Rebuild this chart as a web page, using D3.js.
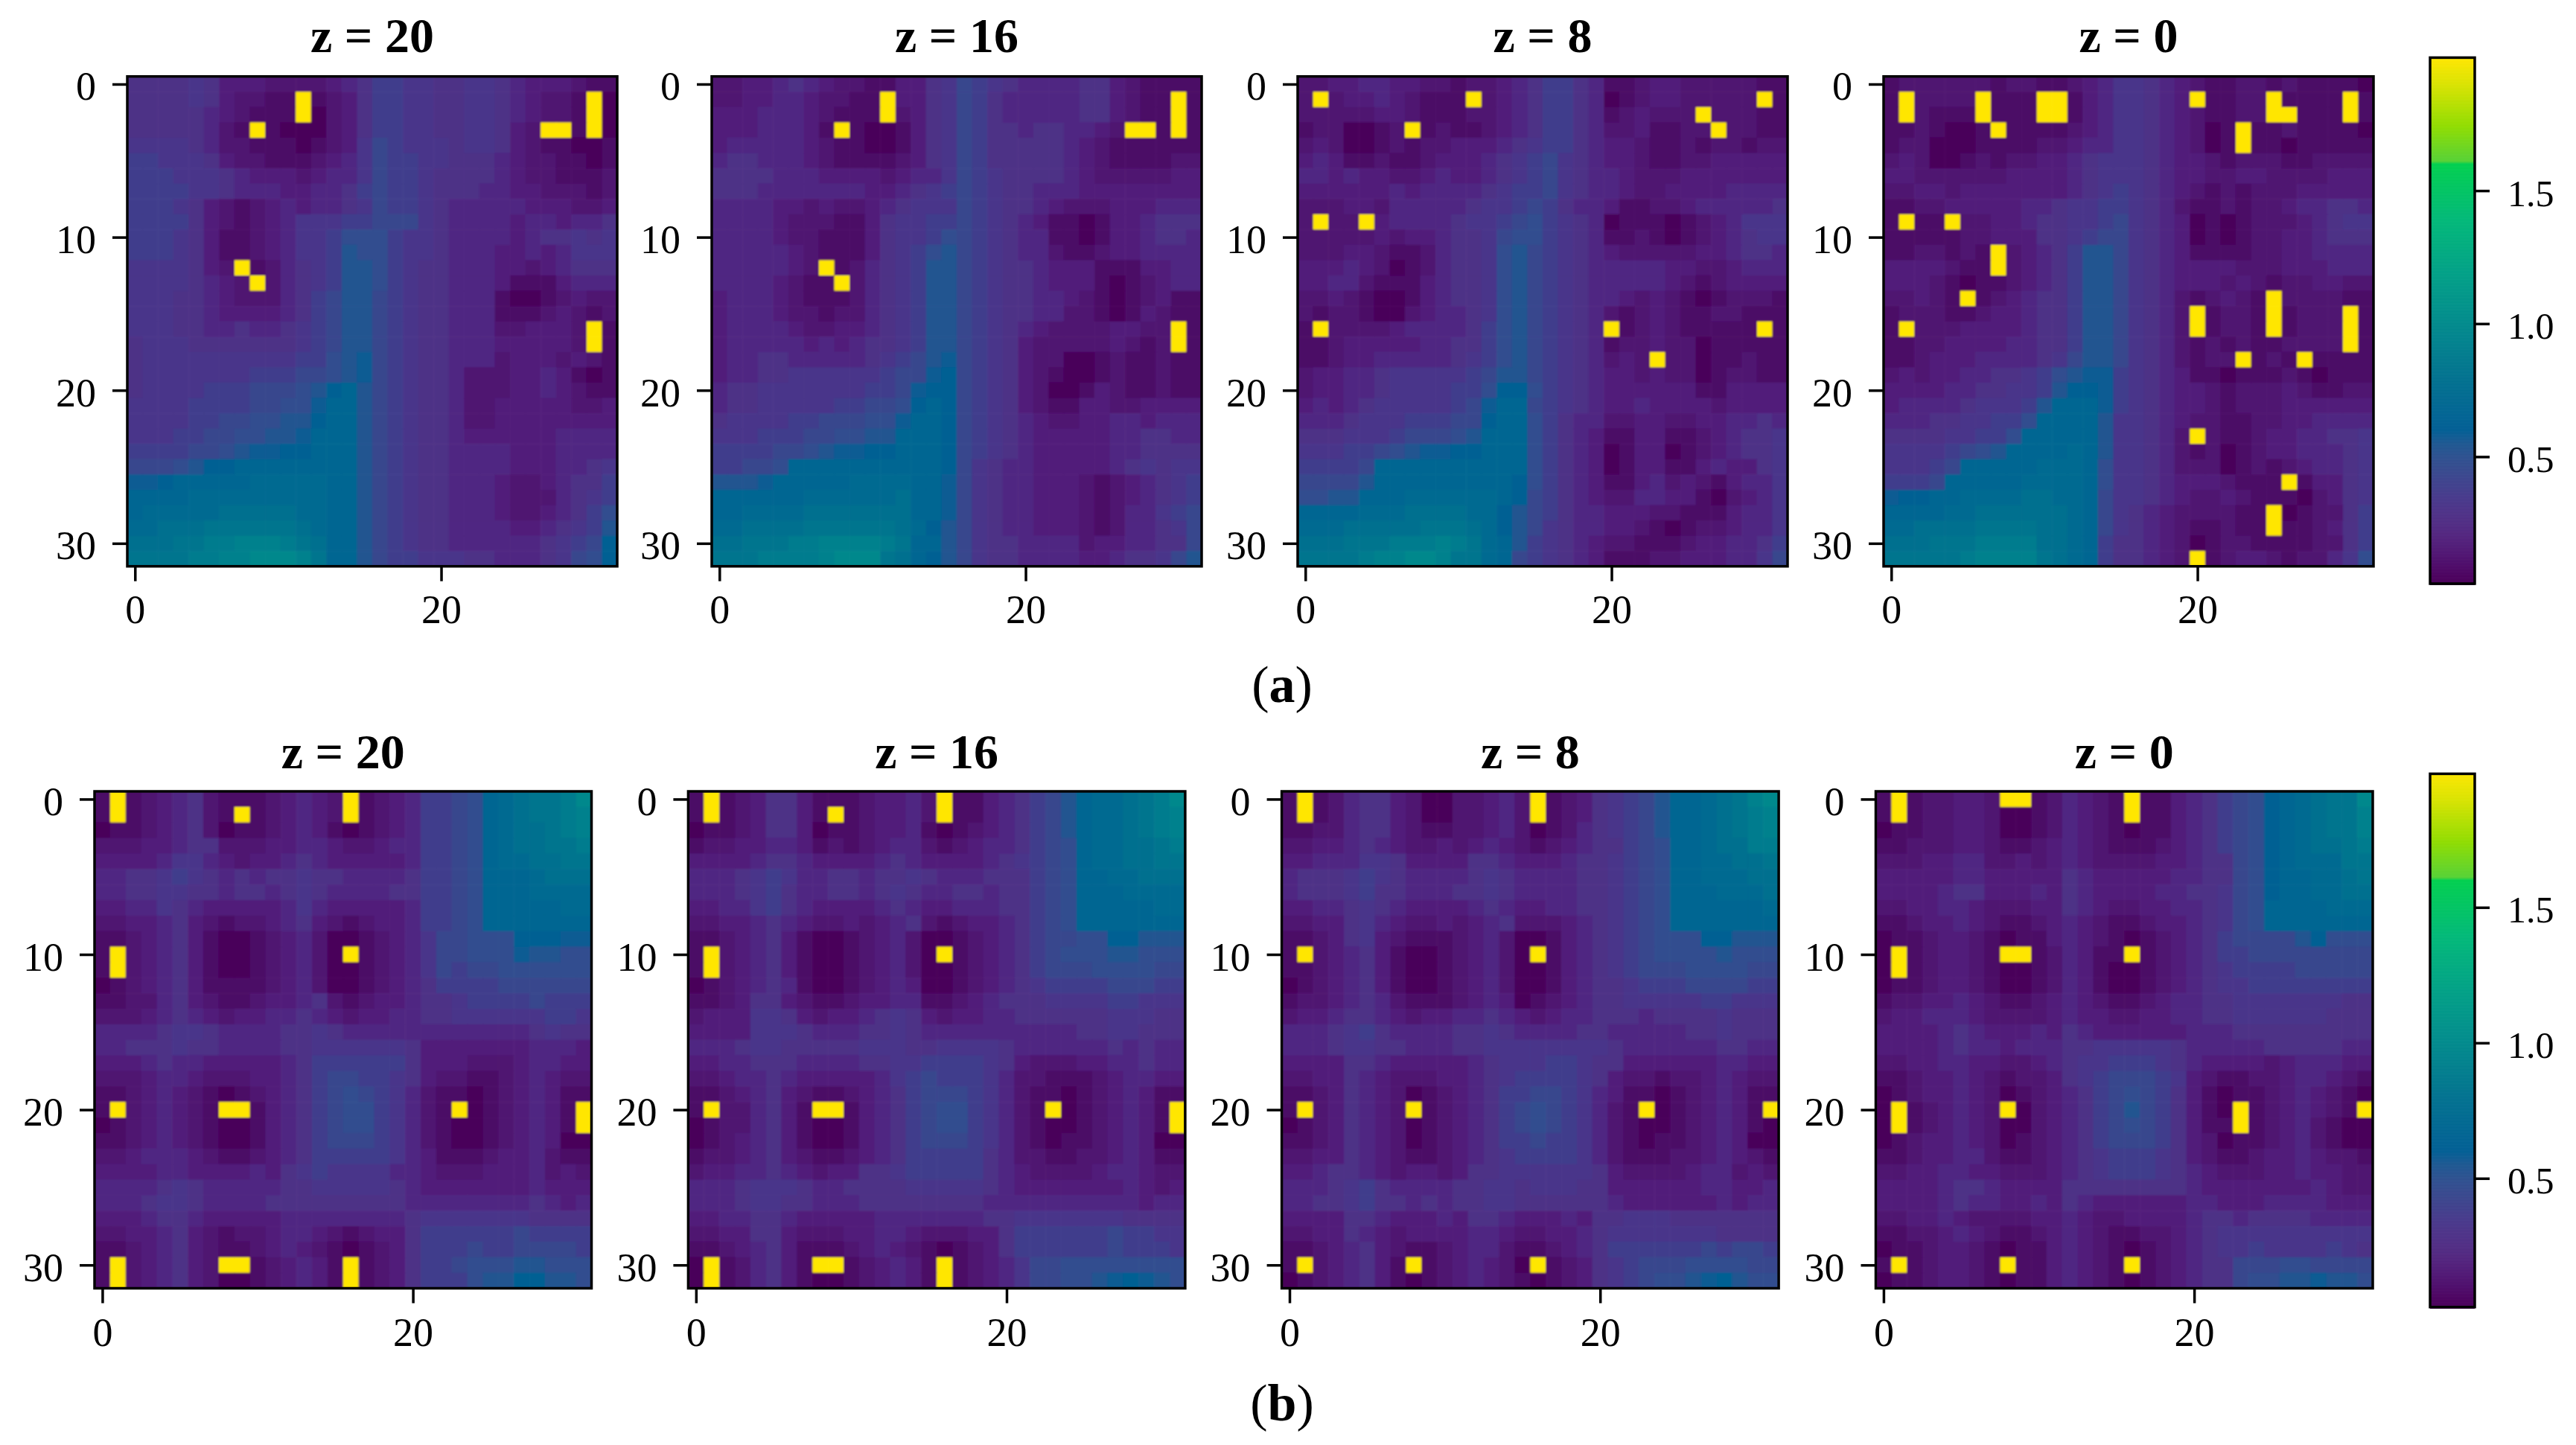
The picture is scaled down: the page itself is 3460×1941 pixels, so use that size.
<!DOCTYPE html>
<html lang="en">
<head>
<meta charset="UTF-8">
<title>Heatmaps z slices</title>
<script src="https://d3js.org/d3.v7.min.js"></script>
<style>
  html, body { margin: 0; padding: 0; background: #fff; }
  text { font-family: "Liberation Serif", serif; fill: #000; }
</style>
</head>
<body>
<svg id="chart" width="3460" height="1941">
  <defs><filter id="soft" x="0" y="0" width="100%" height="100%"><feGaussianBlur stdDeviation="1.2"/></filter></defs>
</svg>
<script>
// each letter is one cell: a = 0.03, b = 0.08, c = 0.13 ... t = 0.98, # = saturated (2.0)
const topZ20 = [
"ffff gfdd dccc cdef hhgg ffgg fedd dcbb",
"ffff gfdc cbb# bcdf hhgg ffgg fedc cb#a",
"ffff fedc bbb# acdf hhgg ffgg fedc cb#a",
"ffff fecb #baa acdf hhgg ffgg fdc# #b#a",
"gggg fecc bbba bcdg ihgg gfgg fdcb baab",
"hhgg gfdc cbbb cdeg ihhg gfff edcc bbab",
"hhhg ggfe dddc deeg ihhg ffff edcc bbbc",
"hhhh ggfe eedd eefh ihhg fffe eddc ccbc",
"hhhg fdcb cded eefg ihhg feee eedd dccd",
"hhhh fdcb cdeg gghh iiig feee edee deef",
"hhhg fdbb cdeg ghjj jhgg feee edef fgfg",
"hhhg fdbb cdeg ghkj jhgg feee dded eggg",
"gggg fdc# bcef ghkk jhgf feee ddcd efff",
"gggg fedc #cef ghkk jhgf feee dbbb deee",
"gggf fedc ccef hikk ihgf feee baab cdcc",
"gggf fedd ddef hikk ihgf feee bbbc dcbc",
"gggf feef eefg hikk ihgf feee ccdd dc#b",
"fggg ffff fffg hikk ihgf feee dddd dc#b",
"fggg gggg gggh hjkl ihgf feee cddd cdcb",
"fggg gggg hhhi ijkl ihgf fecc cdde dbab",
"fggg ghhh iiij kmnk ihgf fecc cdde dcbb",
"gggg hhhh iijj lnnk ihgf fecc dddd dccd",
"gggg hhii jjkk mnnk ihgf fecc dddd dddd",
"gggh hiij jkkl nnnk ihgf fedd dddd eeee",
"hhhh iijk llmm nnnk ihgf feee eddd eeee",
"iiij kmmn nnnn nnnk ihgf feee eddd eefg",
"llmn nnnn oooo onnk ihgf feee dccd effh",
"nnnn oooo oooo onnk ihgf feee dccc efgh",
"nooo oopp pppo onnk ihgf feee dccd efhj",
"oopp pqqq qqqp onnk ihgf feee edde fghk",
"pppq qrrs ssrq pnnk ihgf feee eeef ghim",
"qqqq rrss ttts qnnk ihhg ggff eeef gijm"];

const topZ16 = [
"ccdd efed ccbb ddfg ihgf eeee ffdc bbbb",
"ccdd eedc cbb# ddfg ihfe eeee ffdc bb#b",
"ddde eedc bbb# cdfg ihfe eeee ffdc bb#b",
"ddde eedb #baa bdfg ihff effe edc# #b#b",
"deee eedc bbaa bdfg ihff fffe dcbb bbbb",
"effe eedc bbbb cdfg ihff fffe dcbb bbcc",
"ffff eeed dddc deeg ihgf fffe dccc ccdd",
"fffe eeee eedd efgh ihgf feee dddd dddd",
"eeee ddcd ccde fggg ihgf fedc ccdd deee",
"eeee dccc bbdf gghh ihgf edbb abdd efff",
"eeee dccb bbdf gghj ihgf eebb abdd effe",
"eeee edcb bbdf ghjk ihgf eecb bcdd eeee",
"eeee edc# bcef ghkk ihgf fedd dbbb ddee",
"eeee dcbb #cef ghkk ihgf fedd dbab cdee",
"deee dcbb bcef ghkk ihgf feed cbab cdbb",
"deee dccb ccef ghkk ihgf feec cbab dcbb",
"deee edcc ddef ghkk ihgf edcc ccdd cc#b",
"deee eede deff ghkk ihgf dccc ccdc bc#b",
"deef feee eefg hikl ihgf dcca abcb bcbb",
"deef fggg gggh iilm ihgf dcba abcb bcbb",
"effg gggg gghh ilmm ihgf dcaa bdcb bcbb",
"effg gggg hhii jmnm ihgf dcbb ddcc dddd",
"fggg ghhi iijj lnnm ihgf edcc ddee deee",
"gggh hhii jjkk nnnm ihgf eddd ddee ffee",
"hhhh iijk llmm nnnm ihgf eddd ddee ffff",
"hhii jnnn nnnn nnnm igfe eddd ddef gfgg",
"kkkl nnnn nooo onnl igfe eddd cbcd efgh",
"nnnn nnoo oooo pnnl igfe eddd cbcd efgh",
"nnoo oopp pppp pnnl igfe eddd cbce eghi",
"oopp ppqq qqqq pomk igfe eddd cbce efgi",
"ppqq qrrs sssr qnnk igff eeee cdde effi",
"qqqr rrrs tttq pnmk igff eeee ddef fgik"];

const topZ8 = [
"ccdd eedd ccbc cdef hhfe bbcd dccc ccbb",
"c#cd dedc bbb# cdef hhfe abcd dccc cc#b",
"cccc cddc bbbc cdef hhfe bcdc cc#c ccbb",
"bcca abc# bcbb cdef hhfe ccdb bcc# ccbb",
"cdca abcb ccdd defg hhfe ddcb bcbc cbcc",
"dedb bcbb cddd efgh igfe ddcb bccd dddd",
"eede ddcc dedd efgh igfe edcc cddd dddd",
"dddd dded eeee fghh igfe edcc dddd eeee",
"cccd dcee eeef gghi hfee dbbc cdee eeef",
"c#cc #dee eefg ghij hgfe abbb abcd eggg",
"cccc cdcd deff gijj hgfe bbcb abcd efgg",
"cccd dcbb ceff gjki hgfe dccc ccdd effe",
"ddde dcab ceff gjki hgfe eeee ddcc deee",
"ddee cbbb deff gjki hgfe eeee dcbc dddd",
"ccdc baab deff gjki hgfe edcd cbab cccb",
"cbcc baac deef gjki hgfe cbcd cbbc cbbb",
"b#cc ccde eeef hjki hgfe #bcd cbbb bb#b",
"bbcd dddd eeff hjki hgfe bccd ccab bbbb",
"bbcd deee eefg hjki hgfe cdc# ccab bcbb",
"cdde efgg gggh ikki hgfe ddcd ccab ccbb",
"cdde efgg gghh jmmj hgfe dddd ddbb dddd",
"dede fggg gghi lnni hgfe dded dddc dddd",
"eeef gggh hhii mnnj hfee ccdd ccdd eefe",
"fffg gghi iijk nnnj hfed bbdd bbcd effg",
"gggh hijk llmm nnnj hfed abdd abcd effg",
"hhhh innn nnnn nnnj hfed abdd bbde ddfg",
"iiii knnn nnnn nnmj hfed bbde cdcb deeg",
"jjkk nnno oooo onmi hfed ccee ddba cdeg",
"nnnn ooop pppo omki hfee dddc cbbb deeg",
"ooop pppp qqqp omki gfee ddcb abcc deeg",
"pppq qqrr rsrq onkh gfed ccbb bcdd eefh",
"qqqq rsst tsqq onih gfed bbbc cddd eegi"];

const topZ0 = [
"bccc cccb ccbb cdeg gfed cbbc cbcb bbba",
"b#cc cc#b bb## bdeg gfed #bbc c#bb bb#b",
"b#cb bb#b bb## bdeg gfed cbbc c##b bb#b",
"bbcb aab# bbbb cdeg gfed cab# bbcb bbba",
"bcca aabb bbcc deeg gfed cab# bbab bbbb",
"cdca abcb ccdd efgg gfed dcbc ccbb cccc",
"ddcc cccc dddd efgg gfed dccd dccc cddd",
"ccdd cddd dddd efgh gfed cbcb cccd dddd",
"bbcc dddd deef gghh gfec bbcb ccde effe",
"b#bb #ccd deff gghi gfed abab cccd efgg",
"bbbb bccd ddff ghii gfed abab ccdd efff",
"bbcc bcb# cdef hkki gfed bbbb ccdd eeee",
"dddd cbb# cdef hkki gfed dddc ccdd deee",
"dddc babb cdef hkki gfed ddcd cbcc ddcc",
"ccdc b#bc deff hkki gfec bcdc b#cc ccbb",
"bccc bbcd deff hkki gfec #bcc b#bc cc#b",
"b#cc cddd deff hkki gfec #bcc b#bc cc#b",
"bbcc dddd eeff hkki gfec bcbc bbcc cc#b",
"bbcd ddee eefg ikki gfec bcc# bcb# bbbb",
"cdcd deef fghj kllh gfed bbab bbcb abbb",
"dddd eeff gghk mmlh gfed dcbc ccdc bbcc",
"deee efgg ghkn nnlh gfed dcbc ccdd dddd",
"eeef fggh hjnn nnkg gfed ccbb ccdd eeee",
"ffff gghh jnnn nnkg gfec #cbb cdde effg",
"gggg hijk nnnn onkg gfec bcab cdde eefg",
"gggh innn nnoo onjg gfec ccab cbcd eefg",
"hhhi nnnn nooo onjg gfed ddcb bb#b ddfg",
"lmmn nooo oppo onig gfed ccdc bbba cdfg",
"nnnn oopp pppp onig fedc cccb b#ab ccfh",
"oopp ppqq qqpp onig fedc bbcb b#bb cdfh",
"pppq qqrr rrpp onhf fedc abcc bbbb ccfh",
"qqqq qrss ssqp onhf fedc #bcd dcbc cegj"];

const bottomZ20 = [
"b#bc defc bbbc dedc #bcd ehhi jnop qqrt",
"b#bc defc b#bc dedc #bcd ehhi jnop qqrs",
"abbc defc abbc dedb abcd ehhi jnop pqrs",
"cccd deff cccd deed ccde ehhi jnop pqqr",
"dddd egge dcdd efed dddd ehhi jnoo ppqq",
"eeff ghgf efef fgff eeee fhhi jnnn oppp",
"eeff ggff effe fgfe eeef fhhi jnnn oooo",
"ddee gfed dddd eged dddd ehhi jnnn nnoo",
"ccdd efdc bccd efdc bcdd ehhi jnnn nnnn",
"bbcd efdb aabc deca abcd egii jjjm mmll",
"b#cd efdb aabc deca #bcd egii jjjl kkjj",
"b#cd efdb aabc deca abcd egih iijj jjjj",
"abcd efdb bbbc deca abcd efhh hhii iiii",
"bbcc efdc bbcd defc bcdd effg hhhh ihhh",
"cccd efed cdde efed cdde effg gggg ghhg",
"eeee fggf eeee ffgf eeee eeee eeee fgff",
"eeff fgff eeee ffgg gggg fddd dddd eeed",
"ddde feed dddd efhh hhhh fddd cccd eedd",
"cccd eedc ccdd efhi ihhg fdcc bbcd edcc",
"bbcd edcb abcd efhi jihg ecbb abcd edbb",
"b#cd edcb ##bd efhi jjhg ecb# abcd edb#",
"abcd edcb aabd efhi jjhg ecba abcd edb#",
"bbcd edcb aabd efhi iihg ecba abcd edaa",
"ccde eedc bbcd efhh hhhg edbb bcdd ecbb",
"dddd eedd dded fghg ggge edcc cddd ecdc",
"eeee fgfe eeee ffgg gggf eddd dddd eddd",
"eeef ggfe eeef ffff ffff eeee eeee fede",
"ddde ffed dddd eeee eeee fggg gggg ffff",
"ccdd efdc bccd eedc bcdd fhhh hhhi hhhh",
"bbcd efdc bbcd edcb abcd fhhh ihhi iiih",
"b#cd efdc ##bc dedb #bcd fhhi jjjk kjjj",
"b#cd efdc aabc dedb #bcd fhhh jkkm mkkj"];

const bottomZ16 = [
"b#bc dffd bbbc ddec #bbd efhi knoo pqrt",
"b#bc dffd b#bc ddec #bbd efhi knoo pqrs",
"abbc dffd abbc ddeb abcd efhi knoo pqrs",
"bccd deed bcbc deec bcde efhi jnoo ppqr",
"dddd effe dddd efed ddde fghi jnoo ppqq",
"eeef ghge effe ffgf eeef ffhi jnno oppp",
"eeef ghfe effe fgfe effe ffhi jnnn oooo",
"ddee ghfe dddd efed deee ffhi jnnn nnoo",
"ccdd efed ccdc defc bcdd efhi jnnn nnnn",
"bbcd efdb aabc deca abcd efhi ijjm mkkk",
"b#cd efdb aabc deca #bcd efhi jjjk kjjj",
"b#cd efdb aabc deca abcd efhi iijj jjii",
"abcd efeb aabc deda abcd efgh hhhi iihh",
"bbcd ffdc bbcd deeb bcde fffg gggh hggg",
"cddd ggfd cdde fgfd cdde efff fffg ggff",
"dddd gggf eeef fgfe eeee eeee effg gfff",
"eeef ggff fffg ggff gggg feee eeef efee",
"ddee fffe eeef fggh hhhg fdcc cdde efee",
"ccde efed dddd eghi hhhg eccb bbcd eedd",
"bbcd efdc bbcd efhi iihg ecbb abcd edbb",
"b#cc efdb ##bd efhi jjhg ecb# abcd edb#",
"abcc efdb aabd efhi jjhg ecba abcd edb#",
"abcd efdb aabd efhi iihg ecba bbcd edaa",
"bccd efdc bbcd efhh hhhf eccb bccd edbb",
"cdde efed cddf fghh hhhf edcc ccde edcc",
"eeef gggf eeff ffgg gggf eddd dddd edcd",
"eeef ggff eeef ffff fffe eeee eeee edee",
"ddee ffed dddd eeee eeef fggg gggg ffff",
"ccdd ffdc ccdd eedc ccdd fhhh hhhi hhgg",
"bbcd efdb bbcd edcb abcd fhhh hhhi hhhg",
"a#bc efdb ##bc dedb #bcd egii jjjj jjjj",
"a#bc efdb aabc dedb #bcd egii jjkl mlkj"];

const bottomZ8 = [
"b#bc effd caac cdec #bcd fghi knno pqst",
"b#bc effd caac cdec #bcd fghi knno pqrs",
"bbcc effd cbbc cdec abce fghi knno pqrs",
"ccdd efed ccdc dedc bcde ffhi jnno pprr",
"ddee eggf dddd ffed ddef fghi jnno oppq",
"efff ghgf eeee fgfe eeef fghi jnno oopp",
"efff ghff eeef fgfe eeef fghi jnnn ooop",
"ddee fgfe dddd efed deef fghi jnnn nnno",
"ccdd fged ccdc defc ccde fghi jnnn nnnn",
"bbcd fgdc bbbc deca abde fghi jjjm mkkk",
"b#cd efdb aabc deca #bde fghi jjjj kjjj",
"bbcd efdb aabc deca abde fghi iijj jjii",
"abcd efdb aabc deca abde ffgh hhii iihh",
"bccd efec bbbc deda bcde ffgg gggh hggg",
"cdde ffed cdde efed cdee fffe ffff gfff",
"eeef ghfe eeef fgfe eeef feee eeff gfff",
"eeef ggff eeef fggg gggg gfee eeee ffee",
"dddd ffed dddd efgg ghhg ffdd dddd eedd",
"ccdd fedc ccdd efgh hhhg fdcc bccd edcc",
"bbcd fedc abcd efhh iihg edbb abcd edbb",
"b#cd fedc #bcd efhi jihg ecb# abcd edb#",
"abcd fedc abcd efhi jihg ecba abcd edba",
"bbcd fedc abcd efhh ihhg ecba bbcd edaa",
"ccdd fedc bbcd efgh hhhg ecbb bccd edcb",
"ddef fedc ddcd ffgg gggg fdcc ccde ecdc",
"eeef ghfe eeef fggf gggf fddd ddde edde",
"eeff ghff efef fggf ffff fedd dddd edee",
"dddd ffed dded ffed dded ffgg gfff ffff",
"ccdd fedc dddd eedc cdde fggg gggg ffff",
"bbcd efdc bbcd eecb bcde fhhh hhhi hiih",
"b#cd efdb #bcd edca #bcd fghi iijj jjii",
"abcd efdb abcd edcb abcd fghi jjkl mkjj"];

const bottomZ0 = [
"b#bc cddc ##bc edcb #bbd efhi jmno pqqt",
"b#bc cddc aabc edcb #bbd efhi jmno pqqs",
"abbc cddc aabc edcb abbd efhi jmno pqqs",
"bbcc cddc bbcd edcb bbcd efhi jmno ppqr",
"cccd deec cdcd edcc ccdd effi jmno ooqq",
"dddd deed dddd fedd ddde effi jmnn oopq",
"dddd effd dded fedd ddee ffgi jmnn oopp",
"ccdd eedc ccdd fedc cdde efgi jnnn nooo",
"bbcd dedc bbcd edcb bcdd efgi jnnn nnnn",
"abbc ddcb abbd edcb abcd efhi iiik mjjj",
"a#bc ddcb ##bc edbb #bcd efhh iiii iiii",
"a#bc ddcb aabc edba abcd efgh hhhi iiii",
"abbc ddcb aabc edba abcd efgg hhhh hhhh",
"bccd dedc bbcd edcb bcde effg gggg ggff",
"cdde eedc cccd eddc cdde effg gggg gfff",
"dddd efed dded fedd dddd eeef ffff ffff",
"dddd efee deee ffgg gggf eeee efff ffee",
"ccdd eedd ccde fggh hhgf eddd dcde eedd",
"bbcd dedc bccd fghi iihg dcbb ccde edcb",
"abcd dedc abcd efhi jihf dbab bcde dcba",
"a#bc dedc #acd efhi kihf dba# bcde dcb#",
"a#bc dedc aacd efhi jihf dbb# bcde cbaa",
"abcd dedc abcd efhi iihf dcab bcde cbaa",
"bbcd deec bbcd efgh hhgf dcbb cdde dccb",
"ccdd eedd cccd efgh hhgf edcc cdde ddcc",
"dddd effe dddd ffff ffff eddd dddd edcc",
"dddd efee dded fedd dddd eedd deee eddd",
"ccdd edcc ccdd edcc dddd effe ffff eeee",
"bbcc dedc bbcd edcb bccd efgg gggg gggg",
"abbc ddcb abbd edcb abcd efgg hggg ghgf",
"b#bc ddcb #bbd edcb #bcd effi iijj iiii",
"abbc ddcb abbd edcb abcd effi jjkk lkkj"];

const panelTitles = ["z = 20", "z = 16", "z = 8", "z = 0"];
const xTickValues = [0, 20];
const yTickValues = [0, 10, 20, 30];
const colorbarTicks = [0.5, 1.0, 1.5];
const colorStops = [0.02, 0.05, 0.1, 0.15, 0.2, 0.25, 0.3, 0.35, 0.4, 0.45, 0.5, 0.55, 0.6, 0.79, 1.0, 1.19, 1.39, 1.6, 1.61, 1.74, 1.9, 2.0];
const colorValues = ["#4a0058", "#4b005e", "#4d0c6b", "#501875", "#51237e", "#502c84", "#4c3288", "#46398b", "#3e418c", "#36498e", "#2c508f", "#1c5791", "#005e94",
  "#00708f", "#008a8c", "#00a086", "#00b878", "#00cf4e", "#55d134", "#8fdc00", "#dae300", "#ffe600"];

const color = d3.scaleLinear().domain(colorStops).range(colorValues).clamp(true);
const svg = d3.select("#chart");

const rows = [
  { grids: [topZ20, topZ16, topZ8, topZ0], lefts: [171, 956, 1743, 2530], top: 102.7, size: 658, titleY: 70, tickY: 837, bar: [77.4, 784, 0.0227, 2.0] },
  { grids: [bottomZ20, bottomZ16, bottomZ8, bottomZ0], lefts: [127, 924.4, 1721.6, 2519.5], top: 1063, size: 667.5, titleY: 1032, tickY: 1808, bar: [1039.4, 1755.7, 0.025, 1.993] }
];

function cellValue(ch) {
  if (ch === "#") return 2.0;
  return 0.03 + (ch.charCodeAt(0) - 97) * 0.05;
}

function styleAxis(g) {
  g.select(".domain").remove();
  g.selectAll("line").attr("stroke", "#000").attr("stroke-width", 3.5);
  g.selectAll("text").attr("font-size", 54).attr("fill", "#000");
}

function drawPanel(grid, title, left, row) {
  const x = d3.scaleLinear().domain([-0.5, 31.5]).range([left, left + row.size]);
  const y = d3.scaleLinear().domain([-0.5, 31.5]).range([row.top, row.top + row.size]);
  const g = svg.append("g");
  const cells = g.append("g").attr("filter", "url(#soft)");
  const cw = x(1) - x(0), ch = y(1) - y(0);

  grid.forEach((line, r) => {
    line.replace(/ /g, "").split("").forEach((c, i) => {
      cells.append("rect")
        .attr("x", x(i - 0.5)).attr("y", y(r - 0.5))
        .attr("width", cw + 0.6).attr("height", ch + 0.6)
        .attr("fill", color(cellValue(c)));
    });
  });

  g.append("rect")
    .attr("x", left).attr("y", row.top)
    .attr("width", row.size).attr("height", row.size)
    .attr("fill", "none").attr("stroke", "#000").attr("stroke-width", 3.5);

  g.append("g")
    .attr("transform", `translate(0,${row.top + row.size})`)
    .call(d3.axisBottom(x).tickValues(xTickValues).tickFormat(d3.format("d")).tickSize(20).tickPadding(0))
    .call(styleAxis)
    .selectAll("text")
    .attr("dy", null)
    .attr("y", row.tickY - row.top - row.size);

  g.append("g")
    .attr("transform", `translate(${left},0)`)
    .call(d3.axisLeft(y).tickValues(yTickValues).tickFormat(d3.format("d")).tickSize(20).tickPadding(22))
    .call(styleAxis)
    .selectAll("text")
    .attr("dy", null)
    .attr("y", 21);

  g.append("text")
    .attr("x", left + row.size / 2).attr("y", row.titleY)
    .attr("text-anchor", "middle")
    .attr("font-size", 66).attr("font-weight", "bold")
    .text(title);
}

function drawColorbar(row) {
  const [barTop, barBottom, vMin, vMax] = row.bar;
  const left = 3264, width = 60;
  const scale = d3.scaleLinear().domain([vMin, vMax]).range([barBottom, barTop]);
  const g = svg.append("g");

  d3.range(barTop, barBottom, 2).forEach(py => {
    g.append("rect")
      .attr("x", left).attr("y", py)
      .attr("width", width).attr("height", 2.5)
      .attr("fill", color(scale.invert(py + 1)));
  });

  g.append("rect")
    .attr("x", left).attr("y", barTop)
    .attr("width", width).attr("height", barBottom - barTop)
    .attr("fill", "none").attr("stroke", "#000").attr("stroke-width", 3.5);

  g.append("g")
    .attr("transform", `translate(${left + width},0)`)
    .call(d3.axisRight(scale).tickValues(colorbarTicks).tickFormat(d3.format(".1f")).tickSize(20).tickPadding(24))
    .call(styleAxis)
    .selectAll("text")
    .attr("dy", null)
    .attr("y", 20)
    .attr("font-size", 50);
}

rows.forEach(row => {
  row.grids.forEach((grid, i) => drawPanel(grid, panelTitles[i], row.lefts[i], row));
  drawColorbar(row);
});

// sub-figure captions, bold letter between plain brackets
[["a", 943], ["b", 1908]].forEach(([letter, baseline]) => {
  const t = svg.append("text")
    .attr("x", 1722).attr("y", baseline)
    .attr("text-anchor", "middle")
    .attr("font-size", 70);
  t.append("tspan").text("(");
  t.append("tspan").attr("font-weight", "bold").text(letter);
  t.append("tspan").text(")");
});
</script>
</body>
</html>
